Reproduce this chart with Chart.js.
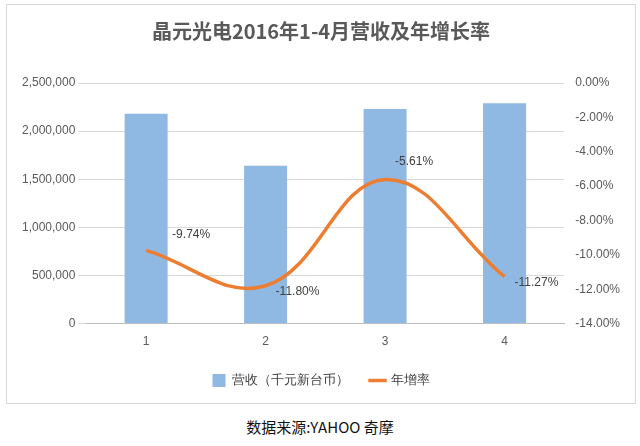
<!DOCTYPE html>
<html>
<head>
<meta charset="utf-8">
<script src="https://cdn.jsdelivr.net/npm/chart.js@4"></script>
<style>
  body { margin: 0; background: #fff; font-family: "Noto Sans CJK SC", sans-serif; }
  #wrap { width: 628px; height: 398px; margin: 4px 6px 0 6px; border: 1px solid #d9d9d9; }
  #src { text-align: center; font-size: 15px; color: #111; margin-top: 12px; }
</style>
</head>
<body>
<div id="wrap"><canvas id="c"></canvas></div>
<div id="src">数据来源:YAHOO 奇摩</div>
<script>
const categories = ["1", "2", "3", "4"];
const revenue = [2180000, 1640000, 2230000, 2290000];
const growth = [-9.74, -11.80, -5.61, -11.27];

const pointLabels = {
  id: "pointLabels",
  afterDatasetsDraw(chart) {
    const ctx = chart.ctx;
    const meta = chart.getDatasetMeta(1);
    ctx.save();
    ctx.font = "12px 'Liberation Sans', sans-serif";
    ctx.fillStyle = "#404040";
    ctx.textBaseline = "middle";
    meta.data.forEach((p, i) => {
      const dy = i === 2 ? -18 : (i === 0 ? -16 : 6);
      ctx.fillText(growth[i].toFixed(2) + "%", p.x + (i === 0 ? 26 : 10), p.y + dy);
    });
    ctx.restore();
  }
};

new Chart(document.getElementById("c").getContext("2d"), {
  data: {
    labels: categories,
    datasets: [
      {
        type: "bar",
        label: "营收（千元新台币）",
        data: revenue,
        backgroundColor: "#8fb9e3",
        barPercentage: 0.45,
        yAxisID: "y",
        pointStyle: "rect",
        order: 2,
      },
      {
        type: "line",
        label: "年增率",
        data: growth,
        borderColor: "#ed7d31",
        backgroundColor: "#ed7d31",
        borderWidth: 3.5,
        pointRadius: 0,
        tension: 0.4,
        yAxisID: "y1",
        pointStyle: "line",
        order: 1,
      },
    ],
  },
  options: {
    responsive: true,
    maintainAspectRatio: false,
    animation: false,
    layout: { padding: { left: 12, right: 12, bottom: 6 } },
    plugins: {
      title: {
        display: true,
        text: "晶元光电2016年1-4月营收及年增长率",
        color: "#595959",
        font: { size: 20, weight: "bold", family: "'Noto Sans CJK SC', sans-serif" },
        padding: { top: 14, bottom: 40 },
      },
      legend: {
        position: "bottom",
        labels: {
          usePointStyle: true,
          color: "#404040",
          font: { size: 13 },
          padding: 22,
          sort: (a, b) => a.datasetIndex - b.datasetIndex,
        },
      },
    },
    scales: {
      x: {
        ticks: { color: "#595959" },
        grid: { display: false },
        border: { color: "#bfbfbf" },
      },
      y: {
        position: "left",
        min: 0,
        max: 2500000,
        ticks: { stepSize: 500000, color: "#595959", callback: (v) => v.toLocaleString("en-US") },
        grid: { color: "#d9d9d9" },
        border: { display: false },
      },
      y1: {
        position: "right",
        min: -14,
        max: 0,
        ticks: { stepSize: 2, color: "#595959", callback: (v) => v.toFixed(2) + "%" },
        grid: { display: false },
        border: { display: false },
      },
    },
  },
  plugins: [pointLabels],
});
</script>
</body>
</html>
